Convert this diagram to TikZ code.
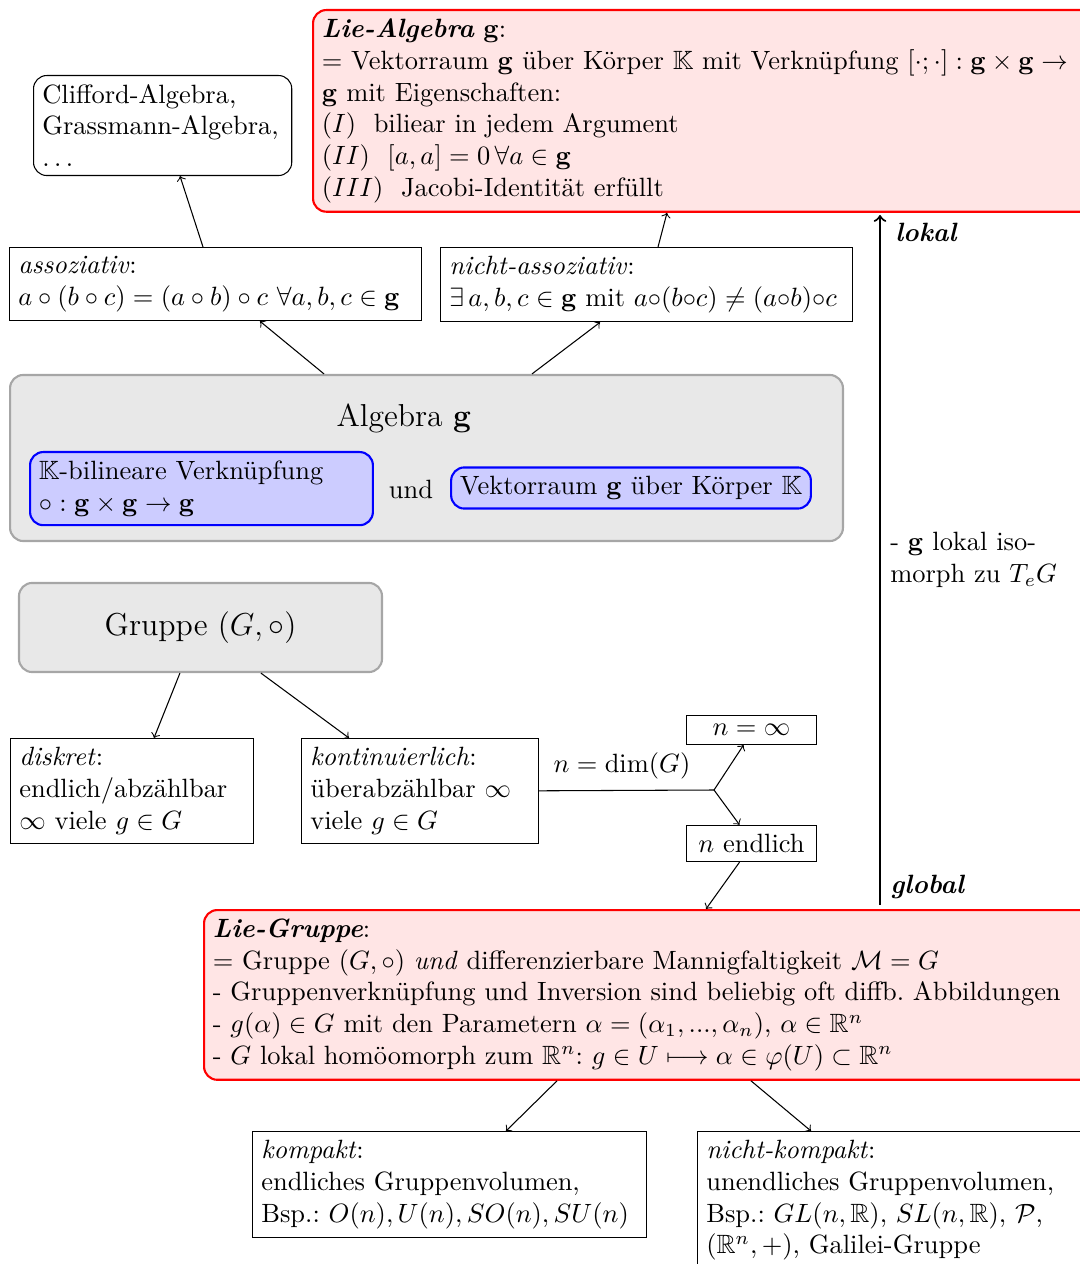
\documentclass[tikz,border=0pt]{standalone}
\usepackage{amsmath,amssymb}
\usetikzlibrary{calc}
\begin{document}
\frenchspacing
\begin{tikzpicture}[x=0.37821pt,y=-0.37821pt,>=to,
  wbox/.style={draw=black, fill=white, align=left, anchor=north west, inner sep=3.33pt},
  pbox/.style={draw=red, thick, fill=red!10, rounded corners=5pt, align=left, anchor=north west, inner sep=3.33pt},
  gbox/.style={draw=black!35, thick, fill=black!9, rounded corners=5pt},
  bbox/.style={draw=blue, thick, fill=blue!20, rounded corners=5pt, align=left, inner sep=3.33pt},
  nbox/.style={draw=black, fill=white, minimum width=49.5pt, inner sep=3.33pt},
  conn/.style={->}]
\useasboundingbox (0,0) rectangle (1079,1264);

% top
\node[wbox, rounded corners=5pt, text width=91pt] (clif) at (33,75) {Clifford-Algebra,\\Grassmann-Algebra,\\$\ldots$};
\node[pbox, text width=10.6cm] (lieA) at (312,9) {\textbf{\textit{Lie-Algebra}} $\mathbf{g}$:\\
= Vektorraum $\mathbf{g}$ über Körper $\mathbb{K}$ mit Verknüpfung $[\cdot;\cdot]:\mathbf{g}\times\mathbf{g}\to$\\
$\mathbf{g}$ mit Eigenschaften:\\
$(I)$\ \ biliear in jedem Argument\\
$(II)$\ \ $[a,a]=0\,\forall a\in\mathbf{g}$\\
$(III)$\ \ Jacobi-Identität erfüllt};

\node[wbox, text width=149pt] (asso) at (9,247) {\textit{assoziativ}:\\ $a\circ(b\circ c)=(a\circ b)\circ c\ \forall a,b,c\in\mathbf{g}$};
\node[wbox, text width=149pt] (nasso) at (440,247) {\textit{nicht-assoziativ}:\\ $\exists\, a,b,c\in\mathbf{g}$ mit $a{\circ}(b{\circ}c)\neq(a{\circ}b){\circ}c$};

% Algebra
\node[gbox, minimum width=315pt, minimum height=62.8pt] (alg) at (426.5,458) {};
\node[font=\large] (algt) at (404,418) {Algebra $\mathbf{g}$};
\node[bbox, anchor=north west, text width=123pt] (bil) at (29,451) {$\mathbb{K}$-bilineare Verknüpfung\\ $\circ:\mathbf{g}\times\mathbf{g}\to\mathbf{g}$};
\node (und) at (411,489) {und};
\node[bbox] (vr) at (631,488) {Vektorraum $\mathbf{g}$ über Körper $\mathbb{K}$};

% Gruppe
\node[gbox, minimum width=137.3pt, minimum height=33.7pt, font=\large] (grp) at (200.5,627.5) {Gruppe $(G,\circ)$};
\node[wbox, text width=85.4pt] (disk) at (10,738) {\textit{diskret}:\\ endlich/abzählbar\\ $\infty$ viele $g\in G$};
\node[wbox, text width=83pt] (kont) at (301,738) {\textit{kontinuierlich}:\\ überabzählbar $\infty$\\ viele $g\in G$};

\node[nbox] (ninf) at (751.5,730) {$n=\infty$};
\node[nbox] (nend) at (751.5,843.5) {$n$ endlich};
\coordinate (br) at (714,790);
\node (dimlbl) at (622,766) {$n=\dim(G)$};

% Lie-Gruppe
\node[pbox, text width=12cm] (lieG) at (203,909) {\textbf{\textit{Lie-Gruppe}}:\\
= Gruppe $(G,\circ)$ \textit{und} differenzierbare Mannigfaltigkeit $\mathcal{M}=G$\\
- Gruppenverknüpfung und Inversion sind beliebig oft diffb. Abbildungen\\
- $g(\alpha)\in G$ mit den Parametern $\alpha=(\alpha_1,...,\alpha_n)$, $\alpha\in\mathbb{R}^n$\\
- $G$ lokal homöomorph zum $\mathbb{R}^n$: $g\in U\longmapsto\alpha\in\varphi(U)\subset\mathbb{R}^n$};

\node[wbox, text width=5cm] (komp) at (252,1131) {\textit{kompakt}:\\ endliches Gruppenvolumen,\\ Bsp.: $O(n),U(n),SO(n),SU(n)$};
\node[wbox, text width=5cm] (nkomp) at (697,1131) {\textit{nicht-kompakt}:\\ unendliches Gruppenvolumen,\\ Bsp.: $GL(n,\mathbb{R})$, $SL(n,\mathbb{R})$, $\mathcal{P}$,\\ $(\mathbb{R}^n,+)$, Galilei-Gruppe};

% lokal / global arrow
\coordinate (glob) at (880,905);
\coordinate (lok) at (880,215);
\draw[thick,->] (glob) -- (lok);
\node[anchor=west] (loklbl) at (886,232) {\textbf{\textit{lokal}}};
\node[anchor=west] (glolbl) at (881,887) {\textbf{\textit{global}}};
\node[anchor=west, align=left] (isolbl) at (881,560) {- $\mathbf{g}$ lokal iso-\\morph zu $T_eG$};

% connectors
\draw[conn] ($(asso.north west)+(194,0)$) -- ($(clif.south west)+(147,0)$);
\draw[conn] ($(nasso.north west)+(218,0)$) -- ($(lieA.south west)+(355,0)$);
\draw[conn] ($(alg.north west)+(315,0)$) -- ($(asso.south west)+(251,0)$);
\draw[conn] ($(alg.north west)+(523,0)$) -- ($(nasso.south west)+(160,0)$);
\draw[conn] ($(grp.south west)+(162,0)$) -- ($(disk.north west)+(144,0)$);
\draw[conn] ($(grp.south west)+(243,0)$) -- ($(kont.north west)+(48,0)$);
\draw (kont.east) -- (br);
\draw[conn] (br) -- ($(ninf.south west)+(58,0)$);
\draw[conn] (br) -- ($(nend.north west)+(54,0)$);
\draw[conn] ($(nend.south west)+(54,0)$) -- ($(lieG.north west)+(503,0)$);
\draw[conn] ($(lieG.south west)+(354,0)$) -- ($(komp.north west)+(254,0)$);
\draw[conn] ($(lieG.south west)+(548,0)$) -- ($(nkomp.north west)+(114,0)$);
\end{tikzpicture}
\end{document}
